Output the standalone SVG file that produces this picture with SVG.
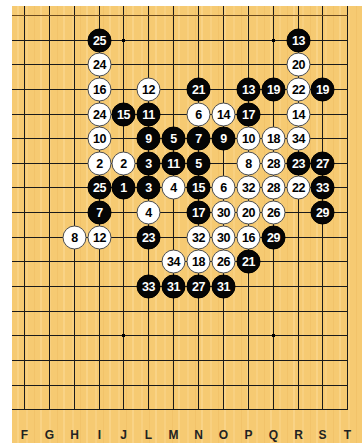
<svg xmlns="http://www.w3.org/2000/svg" width="362" height="443" viewBox="0 0 362 443">
<defs>
<pattern id="wood" x="0" y="0" width="23" height="10" patternUnits="userSpaceOnUse">
<rect width="23" height="10" fill="#F6CA72"/>
<rect x="3" width="2" height="10" fill="#F8D080"/>
<rect x="11" width="1" height="10" fill="#F2C36A"/>
<rect x="17" width="2" height="10" fill="#F9D386"/>
</pattern>
</defs>
<style>
.grid line{stroke:#1a1a1a;stroke-width:1}
.b circle{fill:#050505;stroke:#000;stroke-width:1}
.w circle{fill:#fff;stroke:#4a4a4a;stroke-width:1}
.b text,.w text{font-family:"Liberation Sans",Arial,sans-serif;font-weight:bold;font-size:12.5px;text-anchor:middle;letter-spacing:-0.4px}
.b text{fill:#fff}
.w text{fill:#000}
.lab{font-family:"Liberation Sans",Arial,sans-serif;font-weight:bold;font-size:12px;text-anchor:middle;fill:#222}
</style>
<rect x="0" y="0" width="362" height="443" fill="#fff"/>
<g id="board">
<rect x="12" y="6" width="350" height="437" fill="url(#wood)"/>
<g class="grid">
<line x1="24.5" y1="6" x2="24.5" y2="409.5"/>
<line x1="49.5" y1="6" x2="49.5" y2="409.5"/>
<line x1="74.5" y1="6" x2="74.5" y2="409.5"/>
<line x1="99.5" y1="6" x2="99.5" y2="409.5"/>
<line x1="123.5" y1="6" x2="123.5" y2="409.5"/>
<line x1="148.5" y1="6" x2="148.5" y2="409.5"/>
<line x1="173.5" y1="6" x2="173.5" y2="409.5"/>
<line x1="198.5" y1="6" x2="198.5" y2="409.5"/>
<line x1="223.5" y1="6" x2="223.5" y2="409.5"/>
<line x1="248.5" y1="6" x2="248.5" y2="409.5"/>
<line x1="273.5" y1="6" x2="273.5" y2="409.5"/>
<line x1="298.5" y1="6" x2="298.5" y2="409.5"/>
<line x1="322.5" y1="6" x2="322.5" y2="409.5"/>
<line x1="347.5" y1="6" x2="347.5" y2="410"/>
<line x1="12" y1="15.5" x2="347.5" y2="15.5" style="stroke:#6b4a1e"/>
<line x1="12" y1="40.5" x2="347.5" y2="40.5"/>
<line x1="12" y1="64.5" x2="347.5" y2="64.5"/>
<line x1="12" y1="89.5" x2="347.5" y2="89.5"/>
<line x1="12" y1="114.5" x2="347.5" y2="114.5"/>
<line x1="12" y1="138.5" x2="347.5" y2="138.5"/>
<line x1="12" y1="163.5" x2="347.5" y2="163.5"/>
<line x1="12" y1="187.5" x2="347.5" y2="187.5"/>
<line x1="12" y1="212.5" x2="347.5" y2="212.5"/>
<line x1="12" y1="237.5" x2="347.5" y2="237.5"/>
<line x1="12" y1="261.5" x2="347.5" y2="261.5"/>
<line x1="12" y1="286.5" x2="347.5" y2="286.5"/>
<line x1="12" y1="311.5" x2="347.5" y2="311.5"/>
<line x1="12" y1="335.5" x2="347.5" y2="335.5"/>
<line x1="12" y1="360.5" x2="347.5" y2="360.5"/>
<line x1="12" y1="385.5" x2="347.5" y2="385.5"/>
<line x1="12" y1="409.5" x2="348" y2="409.5"/>
</g>
<g id="stars" fill="#000">
<rect x="122" y="39" width="3" height="3"/>
<rect x="272" y="39" width="3" height="3"/>
<rect x="122" y="334" width="3" height="3"/>
<rect x="272" y="334" width="3" height="3"/>
</g>
</g>
<g id="labels">
<text class="lab" x="24.5" y="438.5">F</text>
<text class="lab" x="49.5" y="438.5">G</text>
<text class="lab" x="74.5" y="438.5">H</text>
<text class="lab" x="99.5" y="438.5">I</text>
<text class="lab" x="123.5" y="438.5">J</text>
<text class="lab" x="148.5" y="438.5">L</text>
<text class="lab" x="173.5" y="438.5">M</text>
<text class="lab" x="198.5" y="438.5">N</text>
<text class="lab" x="223.5" y="438.5">O</text>
<text class="lab" x="248.5" y="438.5">P</text>
<text class="lab" x="273.5" y="438.5">Q</text>
<text class="lab" x="298.5" y="438.5">R</text>
<text class="lab" x="322.5" y="438.5">S</text>
<text class="lab" x="347.5" y="438.5">T</text>
</g>
<g id="stones">
<g id="s-c3r1" class="b"><circle cx="99.5" cy="40.5" r="11.5"/><text x="99.5" y="45">25</text></g>
<g id="s-c11r1" class="b"><circle cx="298.5" cy="40.5" r="11.5"/><text x="298.5" y="45">13</text></g>
<g id="s-c3r2" class="w"><circle cx="99.5" cy="64.5" r="11.5"/><text x="99.5" y="69">24</text></g>
<g id="s-c11r2" class="w"><circle cx="298.5" cy="64.5" r="11.5"/><text x="298.5" y="69">20</text></g>
<g id="s-c3r3" class="w"><circle cx="99.5" cy="89.5" r="11.5"/><text x="99.5" y="94">16</text></g>
<g id="s-c5r3" class="w"><circle cx="148.5" cy="89.5" r="11.5"/><text x="148.5" y="94">12</text></g>
<g id="s-c7r3" class="b"><circle cx="198.5" cy="89.5" r="11.5"/><text x="198.5" y="94">21</text></g>
<g id="s-c9r3" class="b"><circle cx="248.5" cy="89.5" r="11.5"/><text x="248.5" y="94">13</text></g>
<g id="s-c10r3" class="b"><circle cx="273.5" cy="89.5" r="11.5"/><text x="273.5" y="94">19</text></g>
<g id="s-c11r3" class="w"><circle cx="298.5" cy="89.5" r="11.5"/><text x="298.5" y="94">22</text></g>
<g id="s-c12r3" class="b"><circle cx="322.5" cy="89.5" r="11.5"/><text x="322.5" y="94">19</text></g>
<g id="s-c3r4" class="w"><circle cx="99.5" cy="114.5" r="11.5"/><text x="99.5" y="119">24</text></g>
<g id="s-c4r4" class="b"><circle cx="123.5" cy="114.5" r="11.5"/><text x="123.5" y="119">15</text></g>
<g id="s-c5r4" class="b"><circle cx="148.5" cy="114.5" r="11.5"/><text x="148.5" y="119">11</text></g>
<g id="s-c7r4" class="w"><circle cx="198.5" cy="114.5" r="11.5"/><text x="198.5" y="119">6</text></g>
<g id="s-c8r4" class="w"><circle cx="223.5" cy="114.5" r="11.5"/><text x="223.5" y="119">14</text></g>
<g id="s-c9r4" class="b"><circle cx="248.5" cy="114.5" r="11.5"/><text x="248.5" y="119">17</text></g>
<g id="s-c11r4" class="w"><circle cx="298.5" cy="114.5" r="11.5"/><text x="298.5" y="119">14</text></g>
<g id="s-c3r5" class="w"><circle cx="99.5" cy="138.5" r="11.5"/><text x="99.5" y="143">10</text></g>
<g id="s-c5r5" class="b"><circle cx="148.5" cy="138.5" r="11.5"/><text x="148.5" y="143">9</text></g>
<g id="s-c6r5" class="b"><circle cx="173.5" cy="138.5" r="11.5"/><text x="173.5" y="143">5</text></g>
<g id="s-c7r5" class="b"><circle cx="198.5" cy="138.5" r="11.5"/><text x="198.5" y="143">7</text></g>
<g id="s-c8r5" class="b"><circle cx="223.5" cy="138.5" r="11.5"/><text x="223.5" y="143">9</text></g>
<g id="s-c9r5" class="w"><circle cx="248.5" cy="138.5" r="11.5"/><text x="248.5" y="143">10</text></g>
<g id="s-c10r5" class="w"><circle cx="273.5" cy="138.5" r="11.5"/><text x="273.5" y="143">18</text></g>
<g id="s-c11r5" class="w"><circle cx="298.5" cy="138.5" r="11.5"/><text x="298.5" y="143">34</text></g>
<g id="s-c3r6" class="w"><circle cx="99.5" cy="163.5" r="11.5"/><text x="99.5" y="168">2</text></g>
<g id="s-c4r6" class="w"><circle cx="123.5" cy="163.5" r="11.5"/><text x="123.5" y="168">2</text></g>
<g id="s-c5r6" class="b"><circle cx="148.5" cy="163.5" r="11.5"/><text x="148.5" y="168">3</text></g>
<g id="s-c6r6" class="b"><circle cx="173.5" cy="163.5" r="11.5"/><text x="173.5" y="168">11</text></g>
<g id="s-c7r6" class="b"><circle cx="198.5" cy="163.5" r="11.5"/><text x="198.5" y="168">5</text></g>
<g id="s-c9r6" class="w"><circle cx="248.5" cy="163.5" r="11.5"/><text x="248.5" y="168">8</text></g>
<g id="s-c10r6" class="w"><circle cx="273.5" cy="163.5" r="11.5"/><text x="273.5" y="168">28</text></g>
<g id="s-c11r6" class="b"><circle cx="298.5" cy="163.5" r="11.5"/><text x="298.5" y="168">23</text></g>
<g id="s-c12r6" class="b"><circle cx="322.5" cy="163.5" r="11.5"/><text x="322.5" y="168">27</text></g>
<g id="s-c3r7" class="b"><circle cx="99.5" cy="187.5" r="11.5"/><text x="99.5" y="192">25</text></g>
<g id="s-c4r7" class="b"><circle cx="123.5" cy="187.5" r="11.5"/><text x="123.5" y="192">1</text></g>
<g id="s-c5r7" class="b"><circle cx="148.5" cy="187.5" r="11.5"/><text x="148.5" y="192">3</text></g>
<g id="s-c6r7" class="w"><circle cx="173.5" cy="187.5" r="11.5"/><text x="173.5" y="192">4</text></g>
<g id="s-c7r7" class="b"><circle cx="198.5" cy="187.5" r="11.5"/><text x="198.5" y="192">15</text></g>
<g id="s-c8r7" class="w"><circle cx="223.5" cy="187.5" r="11.5"/><text x="223.5" y="192">6</text></g>
<g id="s-c9r7" class="w"><circle cx="248.5" cy="187.5" r="11.5"/><text x="248.5" y="192">32</text></g>
<g id="s-c10r7" class="w"><circle cx="273.5" cy="187.5" r="11.5"/><text x="273.5" y="192">28</text></g>
<g id="s-c11r7" class="w"><circle cx="298.5" cy="187.5" r="11.5"/><text x="298.5" y="192">22</text></g>
<g id="s-c12r7" class="b"><circle cx="322.5" cy="187.5" r="11.5"/><text x="322.5" y="192">33</text></g>
<g id="s-c3r8" class="b"><circle cx="99.5" cy="212.5" r="11.5"/><text x="99.5" y="217">7</text></g>
<g id="s-c5r8" class="w"><circle cx="148.5" cy="212.5" r="11.5"/><text x="148.5" y="217">4</text></g>
<g id="s-c7r8" class="b"><circle cx="198.5" cy="212.5" r="11.5"/><text x="198.5" y="217">17</text></g>
<g id="s-c8r8" class="w"><circle cx="223.5" cy="212.5" r="11.5"/><text x="223.5" y="217">30</text></g>
<g id="s-c9r8" class="w"><circle cx="248.5" cy="212.5" r="11.5"/><text x="248.5" y="217">20</text></g>
<g id="s-c10r8" class="w"><circle cx="273.5" cy="212.5" r="11.5"/><text x="273.5" y="217">26</text></g>
<g id="s-c12r8" class="b"><circle cx="322.5" cy="212.5" r="11.5"/><text x="322.5" y="217">29</text></g>
<g id="s-c2r9" class="w"><circle cx="74.5" cy="237.5" r="11.5"/><text x="74.5" y="242">8</text></g>
<g id="s-c3r9" class="w"><circle cx="99.5" cy="237.5" r="11.5"/><text x="99.5" y="242">12</text></g>
<g id="s-c5r9" class="b"><circle cx="148.5" cy="237.5" r="11.5"/><text x="148.5" y="242">23</text></g>
<g id="s-c7r9" class="w"><circle cx="198.5" cy="237.5" r="11.5"/><text x="198.5" y="242">32</text></g>
<g id="s-c8r9" class="w"><circle cx="223.5" cy="237.5" r="11.5"/><text x="223.5" y="242">30</text></g>
<g id="s-c9r9" class="w"><circle cx="248.5" cy="237.5" r="11.5"/><text x="248.5" y="242">16</text></g>
<g id="s-c10r9" class="b"><circle cx="273.5" cy="237.5" r="11.5"/><text x="273.5" y="242">29</text></g>
<g id="s-c6r10" class="w"><circle cx="173.5" cy="261.5" r="11.5"/><text x="173.5" y="266">34</text></g>
<g id="s-c7r10" class="w"><circle cx="198.5" cy="261.5" r="11.5"/><text x="198.5" y="266">18</text></g>
<g id="s-c8r10" class="w"><circle cx="223.5" cy="261.5" r="11.5"/><text x="223.5" y="266">26</text></g>
<g id="s-c9r10" class="b"><circle cx="248.5" cy="261.5" r="11.5"/><text x="248.5" y="266">21</text></g>
<g id="s-c5r11" class="b"><circle cx="148.5" cy="286.5" r="11.5"/><text x="148.5" y="291">33</text></g>
<g id="s-c6r11" class="b"><circle cx="173.5" cy="286.5" r="11.5"/><text x="173.5" y="291">31</text></g>
<g id="s-c7r11" class="b"><circle cx="198.5" cy="286.5" r="11.5"/><text x="198.5" y="291">27</text></g>
<g id="s-c8r11" class="b"><circle cx="223.5" cy="286.5" r="11.5"/><text x="223.5" y="291">31</text></g>
</g>
</svg>
